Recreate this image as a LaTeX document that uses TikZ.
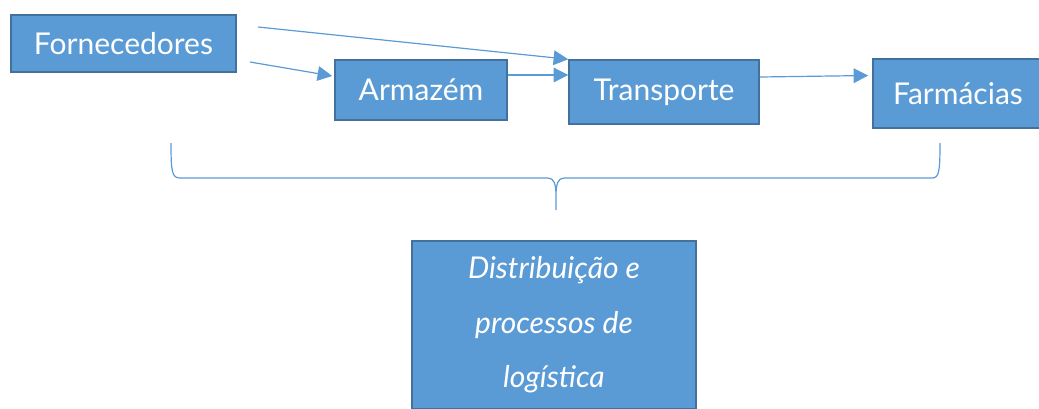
\documentclass[tikz,border=0pt]{standalone}
\usepackage{fontspec}
\setmainfont{Lato}
\usetikzlibrary{arrows.meta,calc}
\definecolor{boxfill}{HTML}{5B9BD5}
\definecolor{boxline}{HTML}{41719C}

\begin{document}
\begin{tikzpicture}[x=0.75pt,y=-0.75pt,
  box/.style={draw=boxline,fill=boxfill,line width=1.1pt,text=white,inner sep=0pt,font=\fontsize{22.5}{26}\selectfont},
  flow/.style={draw=boxfill,line width=0.9pt,-{Triangle[length=11pt,width=11pt]}},
  bracket/.style={draw=boxfill,line width=0.9pt}]
\useasboundingbox (0,0) rectangle (1039,408);
\clip (0,0) rectangle (1039,408);

\node[box,minimum width=168.75pt,minimum height=42.75pt] (forn) at (123.5,43.5) {Fornecedores};
\node[box,minimum width=129pt,minimum height=45pt] (arm) at (421,90) {Armazém};
\node[box,minimum width=142.5pt,minimum height=48pt] (trans) at (664,92) {Transporte};
\node[box,minimum width=127.5pt,minimum height=51.75pt] (farm) at (958,93.5) {Farmácias};
\node[box,minimum width=213pt,minimum height=126pt,align=center,
      font=\fontsize{22.5}{41}\selectfont\itshape] (dist) at (554,325)
      {Distribuição e\\processos de\\logística};

\coordinate (f1) at (250,62);
\coordinate (f2) at (258,27);
\coordinate (a1) at ($(arm.east)+(0,-15)$);
\coordinate (t1) at ($(trans.east)+(0,-15)$);

\path[flow] (f1) -- ($(arm.west)+(-2,-14)$);
\path[flow] (f2) -- (trans.north west);
\path[flow] (a1) -- (a1 -| trans.west);
\path[flow] (t1) -- ($(farm.west)+(-4,-18)$);

% brace below the chain
\path[bracket] (171,143) .. controls (171,172) and (172,178) .. (180,178) -- (548,178)
  .. controls (554,178) and (556,184) .. (556,196) -- (556,210)
  (556,196) .. controls (556,184) and (558,178) .. (564,178) -- (932,178)
  .. controls (939,178) and (940,172) .. (940,143);
\end{tikzpicture}
\end{document}
